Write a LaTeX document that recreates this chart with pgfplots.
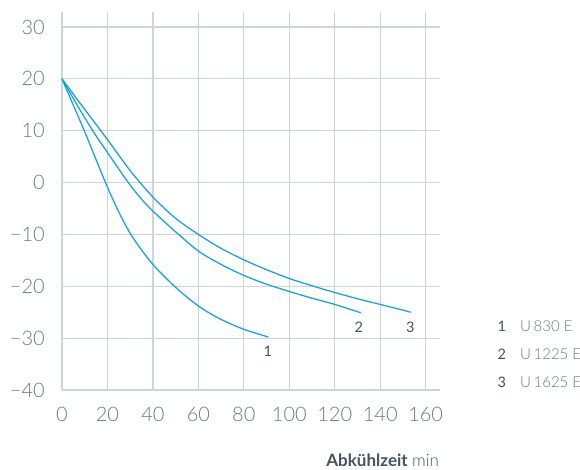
\documentclass[border=0pt]{standalone}
\usepackage{fontspec}
\setmainfont{Lato}
\newfontfamily\light{Lato Light}
\usepackage{pgfplots}
\pgfplotsset{compat=1.18}
\definecolor{gridc}{HTML}{CDD4DB}
\definecolor{curvec}{HTML}{1BA3DD}
\definecolor{tickc}{HTML}{6E7883}
\definecolor{darkc}{HTML}{46525E}
\begin{document}
\begin{tikzpicture}
\path[use as bounding box] (-62pt,-80pt) rectangle (518pt,390pt);
\begin{axis}[
  scale only axis, width=378pt, height=378pt,
  xmin=0, xmax=166.3, ymin=-40, ymax=32.9,
  axis line style={draw=none},
  major tick length=0pt,
  grid=major,
  grid style={gridc, line width=1.2pt},
  xtick={0,20,...,160},
  xticklabels={0,20,40,60,80,100,120,140,160},
  ytick={-40,-30,...,30},
  yticklabels={−40,−30,−20,−10,0,10,20,30},
  xticklabel style={font=\light\fontsize{20}{20}\selectfont, text=tickc, anchor=center, inner sep=0pt, yshift=-24pt},
  yticklabel style={font=\light\fontsize{20}{20}\selectfont, text=tickc, anchor=east, inner sep=0pt, xshift=-17pt},
  clip=false,
]
\addplot[curvec, line width=1.3pt, smooth] coordinates {
(0,20)(5,14.9)(10,9.8)(15,4.4)(20,-0.9)(25,-5.7)(30,-9.8)(35,-13.0)(40,-15.8)(45,-18.1)(50,-20.2)(55,-22.1)(60,-23.8)(65,-25.2)(70,-26.4)(75,-27.4)(80,-28.3)(85,-29.0)(90.8,-29.8)};
\addplot[curvec, line width=1.3pt, smooth] coordinates {
(0,20)(5,16.2)(10,12.5)(15,9.0)(20,5.8)(25,2.6)(30,-0.5)(35,-3.2)(40,-5.5)(50,-9.5)(60,-13.2)(70,-15.8)(80,-17.9)(90,-19.6)(100,-21.0)(110,-22.3)(120,-23.5)(131.4,-25.1)};
\addplot[curvec, line width=1.3pt, smooth] coordinates {
(0,20)(10,14.1)(20,8.3)(30,2.3)(40,-2.8)(50,-6.9)(60,-10.0)(70,-12.7)(80,-14.9)(90,-16.8)(100,-18.5)(110,-19.9)(120,-21.2)(130,-22.4)(140,-23.5)(150,-24.6)(153.4,-25.0)};
\node[font=\fontsize{14.5}{14.5}\selectfont, text=darkc] at (axis cs:90.6,-32.5) {1};
\node[font=\fontsize{14.5}{14.5}\selectfont, text=darkc] at (axis cs:130.6,-27.9) {2};
\node[font=\fontsize{14.5}{14.5}\selectfont, text=darkc] at (axis cs:153.2,-27.9) {3};
\node[font=\fontsize{14.5}{14.5}\selectfont, text=darkc] at (axis cs:193.5,-27.7) {1};
\node[font=\fontsize{14.5}{14.5}\selectfont, text=darkc] at (axis cs:193.5,-33.1) {2};
\node[font=\fontsize{14.5}{14.5}\selectfont, text=darkc] at (axis cs:193.5,-38.5) {3};
\node[font=\light\fontsize{15}{15}\selectfont, text=tickc, anchor=west, inner sep=0pt] at (axis cs:201.5,-27.7) {U\,830 E};
\node[font=\light\fontsize{15}{15}\selectfont, text=tickc, anchor=west, inner sep=0pt] at (axis cs:201.5,-33.1) {U\,1225 E};
\node[font=\light\fontsize{15}{15}\selectfont, text=tickc, anchor=west, inner sep=0pt] at (axis cs:201.5,-38.5) {U\,1625 E};
\node[anchor=base east, inner sep=0pt, font=\fontsize{17}{17}\selectfont, text=darkc] at (axis cs:165.9,-54.75) {\textbf{Abkühlzeit} {\light min}};
\end{axis}
\end{tikzpicture}
\end{document}
